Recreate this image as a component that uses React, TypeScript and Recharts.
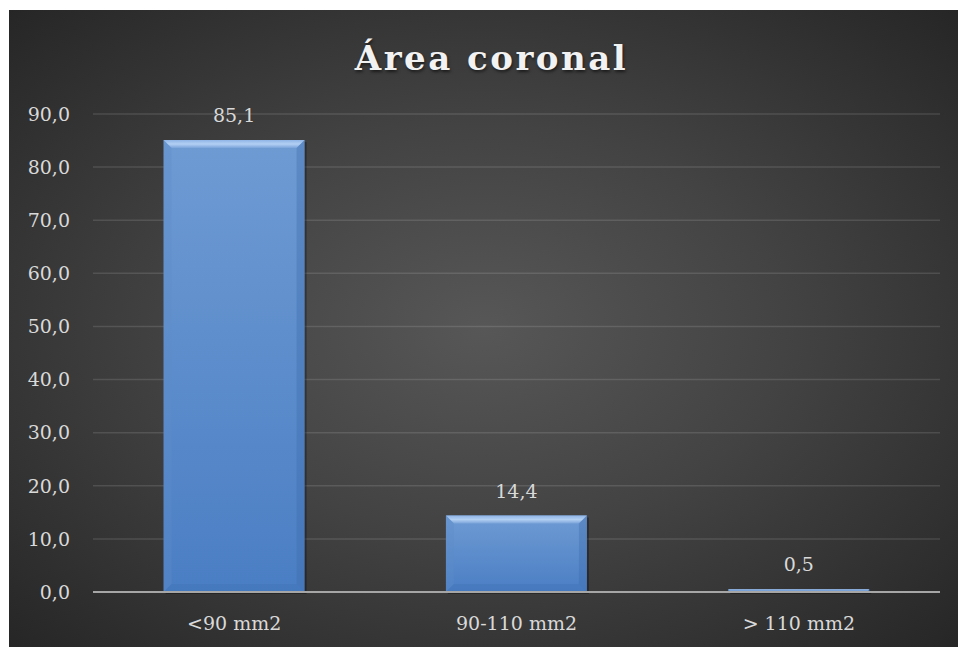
import React from 'react'
import { BarChart, Bar, XAxis, YAxis, CartesianGrid, LabelList } from 'recharts'

const categories = ['<90 mm2', '90-110 mm2', '> 110 mm2']
const percentages = [85.1, 14.4, 0.5]
const yTicks = [0, 10, 20, 30, 40, 50, 60, 70, 80, 90]

const data = categories.map((name, i) => ({ name, value: percentages[i] }))

const fmt = (v: number) => v.toFixed(1).replace('.', ',')
const FONT = '"DejaVu Serif", serif'

function BevelBar(props: any) {
  const { x, y, width, height } = props
  if (!height || height <= 0) return null
  const b = Math.min(8, height / 2, width / 2)
  return (
    <g>
      <rect x={x + 2} y={y + 2} width={width} height={height} fill="rgba(0,0,0,0.3)" />
      <rect x={x} y={y} width={width} height={height} fill="url(#barFill)" />
      <polygon points={`${x},${y} ${x + width},${y} ${x + width - b},${y + b} ${x + b},${y + b}`} fill="url(#topBevel)" />
      <polygon points={`${x},${y} ${x + b},${y + b} ${x + b},${y + height - b} ${x},${y + height}`} fill="#5f8cc8" opacity={0.35} />
      <polygon points={`${x + width},${y} ${x + width - b},${y + b} ${x + width - b},${y + height - b} ${x + width},${y + height}`} fill="#3d6ba8" opacity={0.35} />
      <polygon points={`${x},${y + height} ${x + b},${y + height - b} ${x + width - b},${y + height - b} ${x + width},${y + height}`} fill="#3d6db0" opacity={0.3} />
    </g>
  )
}

export default function App() {
  return (
    <div
      style={{
        position: 'absolute',
        left: 9,
        top: 10,
        width: 949,
        height: 637,
        background: 'radial-gradient(ellipse at 50% 50%, #575757 0%, #434343 45%, #262626 100%)',
      }}
    >
      <div
        style={{
          position: 'absolute',
          left: 8,
          width: 949,
          top: 28,
          textAlign: 'center',
          fontFamily: FONT,
          fontWeight: 'bold',
          fontSize: 34,
          letterSpacing: 2.5,
          color: '#f2f2f2',
          textShadow: '1px 2px 3px rgba(0,0,0,0.55)',
        }}
      >
        Área coronal
      </div>
      <BarChart
        width={949}
        height={637}
        data={data}
        margin={{ top: 104, right: 18, bottom: 25, left: 0 }}
        barCategoryGap="25%"
      >
        <defs>
          <linearGradient id="barFill" x1="0" y1="0" x2="0" y2="1">
            <stop offset="0%" stopColor="#6f9bd3" />
            <stop offset="100%" stopColor="#4a7ec4" />
          </linearGradient>
          <linearGradient id="topBevel" x1="0" y1="0" x2="0" y2="1">
            <stop offset="0%" stopColor="#8fb4e6" />
            <stop offset="50%" stopColor="#b3d0f3" />
            <stop offset="100%" stopColor="#7aa3da" />
          </linearGradient>
        </defs>
        <CartesianGrid vertical={false} stroke="rgba(255,255,255,0.12)" strokeWidth={1.5} />
        <XAxis
          dataKey="name"
          height={30}
          tickLine={false}
          tickSize={0}
          tickMargin={25}
          axisLine={{ stroke: '#a6a6a6', strokeWidth: 2 }}
          tick={{ fill: '#d9d9d9', fontSize: 19, fontFamily: FONT }}
        />
        <YAxis
          width={84}
          domain={[0, 90]}
          ticks={yTicks}
          interval={0}
          tickFormatter={fmt}
          axisLine={false}
          tickLine={false}
          tickSize={0}
          tickMargin={23}
          tick={{ fill: '#d9d9d9', fontSize: 19, fontFamily: FONT }}
        />
        <Bar dataKey="value" shape={BevelBar} isAnimationActive={false}>
          <LabelList
            dataKey="value"
            position="top"
            offset={18}
            formatter={(v: any) => fmt(Number(v))}
            style={{ fill: '#d9d9d9', fontSize: 19, fontFamily: FONT }}
          />
        </Bar>
      </BarChart>
    </div>
  )
}
